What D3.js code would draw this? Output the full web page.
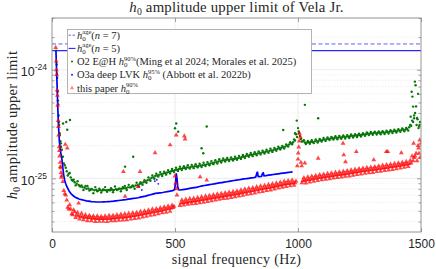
<!DOCTYPE html>
<html>
<head>
<meta charset="utf-8">
<script src="https://cdn.jsdelivr.net/npm/d3@7"></script>
<style>
body { margin: 0; background: #fff; }
svg text { fill: #262626; }
.serif { font-family: "Liberation Serif", "Times New Roman", serif; }
.sans { font-family: "Liberation Sans", Arial, sans-serif; }
</style>
</head>
<body>
<script>
// h0 values below are in units of 1e-26
const unit = 1e-26;

const xTicks = [0, 500, 1000, 1500];
const yTickExp = [-25, -24];
const yDomain = [3.2e-26, 3e-24];
const hAge = [173, 150]; // n = 7 (dashed), n = 5 (solid)

// O2 E@H (green dots)
const greenPts = [
  [17,150],[19,112],[20,92],[21,84],[23,63],[24,52],[25,48],[27,38],[28,33],[29,31],[31,26],[32,25],[34,22],[36,21],[37,19.5],
  [40,18.3],[48,13.7],[56,12.5],[64,10.6],[72,11.2],[80,9.7],[88,9.7],[96,8.6],[104,9.4],[112,8.5],[120,8.6],[128,7.8],[136,8.5],[144,8.5],[152,7.7],[160,7.98],[168,7.3],[176,8.3],[184,7.6],[192,8.0],[200,7.4],[208,7.9],[216,8.3],[224,7.5],[232,7.8],[240,8.1],[248,7.45],[256,8.4],[264,7.8],[272,8.0],[280,7.6],[288,8.3],[296,8.5],[304,7.8],[312,8.7],[320,8.25],[328,8.6],[336,8.0],[344,9.1],[352,8.4],[360,9.2],[368,8.7],[376,9.6],[384,9.1],[392,10.2],[400,9.5],[408,10.6],[416,9.9],[424,11.0],[432,10.4],[440,11.4],[448,10.5],[456,11.5],[464,10.8],[472,11.9],[480,11.1],[488,12.2],[496,11.4],[504,12.5],[512,11.7],[520,12.8],[528,11.9],[536,12.9],[544,12.2],[552,13.2],[560,12.3],[568,13.3],[576,12.4],[584,13.5],[592,12.6],[600,13.6],[608,12.7],[616,13.9],[624,13.0],[632,14.1],[640,13.2],[648,14.4],[656,13.5],[664,14.7],[672,13.7],[680,15.0],[688,14.0],[696,15.2],[704,14.3],[712,15.4],[720,14.4],[728,15.6],[736,14.6],[744,15.8],[752,14.8],[760,16.1],[768,15.1],[776,16.4],[784,15.4],[792,16.8],[800,15.8],[808,17.1],[816,16.0],[824,17.4],[832,16.3],[840,17.7],[848,16.6],[856,18.0],[864,16.9],[872,18.3],[880,17.2],[888,18.7],[896,17.5],[904,19.0],[912,17.9],[920,19.5],[928,18.4],[936,19.9],[944,18.8],[952,20.5],[960,19.6],[968,21.5],[976,20.6],[984,22.8],[992,25.5],[1000,29],[1008,24.5],[1016,21.8],[1024,22.4],[1032,20.7],[1040,22.1],[1048,20.8],[1056,22.4],[1064,21.1],[1072,22.8],[1080,21.4],[1088,23.1],[1096,21.8],[1104,23.5],[1112,22.1],[1120,23.8],[1128,22.5],[1136,24.1],[1144,22.8],[1152,24.4],[1160,22.9],[1168,24.6],[1176,23.1],[1184,24.8],[1192,23.3],[1200,25.0],[1208,23.5],[1216,25.3],[1224,23.8],[1232,25.5],[1240,24.0],[1248,25.8],[1256,24.3],[1264,26.1],[1272,24.6],[1280,26.4],[1288,25.0],[1296,26.7],[1304,25.2],[1312,26.9],[1320,25.3],[1328,27.0],[1336,25.5],[1344,27.2],[1352,25.6],[1360,27.4],[1368,25.9],[1376,27.7],[1384,26.1],[1392,28.0],[1400,26.4],[1408,28.4],[1416,26.8],[1424,28.8],[1432,27.1],[1440,29.1],[1448,27.5],[1456,31],[1464,34],[1472,38],[1480,46],[1488,60],[1496,33],
  // outliers
  [45,32],[58,33],[62,28],[73,34.5],[297,12.8],[330,15.8],[500,28.9],[505,32],[513,26.9],[608,18.9],[615,17.0],[629,30],[940,27.9],[988,26],[995,34],[1003,27],[1028,47.5],[1082,35.7],[1458,37],[1462,62.8],[1465,56.6],[1468,45.8],[1472,35.7],[1475,77.7],[1478,72],[1482,31],[1486,35],[1490,29],[1494,31]
];
// the middle of the green band, between the rows above
const greenFill = [
  [44,15.8],[52,13.2],[60,11.6],[68,11.0],[76,10.2],[84,9.5],[92,9.2],[100,8.9],[108,8.7],[116,8.4],[124,8.3],[132,8.2],[140,8.0],[148,8.05],[156,7.85],[164,7.9],[172,7.75],[180,7.85],[188,7.7],[196,7.8],[204,7.7],[212,7.8],[220,7.75],[228,7.8],[236,7.75],[244,7.85],[252,7.8],[260,7.95],[268,7.9],[276,8.0],[284,8.0],[292,8.1],[300,8.1],[308,8.25],[316,8.25],[324,8.4],[332,8.4],[340,8.6],[348,8.65],[356,8.85],[364,8.95],[372,9.2],[380,9.3],[388,9.6],[396,9.75],[404,10.05],[412,10.2],[420,10.5],[428,10.6],[436,10.8],[444,10.9],[452,11.05],[460,11.15],[468,11.3],[476,11.45],[484,11.6],[492,11.75],[500,11.9],[508,12.0],[516,12.2],[524,12.25],[532,12.4],[540,12.45],[548,12.6],[556,12.6],[564,12.75],[572,12.8],[580,12.9],[588,12.9],[596,13.0],[604,13.1],[612,13.2],[620,13.3],[628,13.45],[636,13.55],[644,13.7],[652,13.8],[660,14.0],[668,14.1],[676,14.3],[684,14.4],[692,14.6],[700,14.7],[708,14.8],[716,14.85],[724,14.95],[732,15.0],[740,15.1],[748,15.2],[756,15.35],[764,15.5],[772,15.7],[780,15.85],[788,16.05],[796,16.2],[804,16.4],[812,16.5],[820,16.7],[828,16.8],[836,16.95],[844,17.1],[852,17.25],[860,17.4],[868,17.55],[876,17.7],[884,17.9],[892,18.05],[900,18.2],[908,18.45],[916,18.65],[924,18.9],[932,19.1],[940,19.3],[948,19.6],[956,20.0],[964,20.5],[972,21.0],[980,21.5],[988,22.3],[996,24],[1004,26],[1012,23],[1020,22.0],[1028,21.4],[1036,21.3],[1044,21.5],[1052,21.6],[1060,21.6],[1068,21.9],[1076,22.0],[1084,22.2],[1092,22.4],[1100,22.6],[1108,22.7],[1116,22.9],[1124,23.1],[1132,23.3],[1140,23.4],[1148,23.5],[1156,23.6],[1164,23.8],[1172,23.8],[1180,24.0],[1188,24.1],[1196,24.2],[1204,24.3],[1212,24.4],[1220,24.6],[1228,24.6],[1236,24.8],[1244,24.9],[1252,25.1],[1260,25.2],[1268,25.4],[1276,25.5],[1284,25.7],[1292,25.8],[1300,26.0],[1308,26.1],[1316,26.2],[1324,26.2],[1332,26.3],[1340,26.4],[1348,26.4],[1356,26.5],[1364,26.7],[1372,26.8],[1380,27.0],[1388,27.1],[1396,27.2],[1404,27.4],[1412,27.6],[1420,27.8],[1428,28.0],[1436,28.1],[1444,28.3],[1452,29.5],[1460,30.5],[1468,33],[1476,40],[1484,36],[1492,30]
];

// O3a deep LVK (blue, dense enough to read as a line)
const bluePts = [
  [16,150],[18,110],[20,80],[22,58],[24,42],[26,32],[28,26],[30,22],[33,19],[36,17],[40,15.2],[44,12.5],[48,10.6],[52,9.5],[56,8.9],
  [60,8.4],[70,7.6],[80,7.1],[90,6.8],[100,6.6],[110,6.45],[120,6.35],[130,6.28],[140,6.2],[150,6.15],[160,6.1],[170,6.08],[180,6.05],[190,6.05],[200,6.05],[210,6.07],[220,6.08],[230,6.1],[240,6.12],[250,6.15],[260,6.2],[270,6.24],[280,6.28],[290,6.32],[300,6.36],[310,6.42],[320,6.47],[330,6.52],[340,6.56],[350,6.62],[360,6.7],[370,6.78],[380,6.86],[390,6.95],[400,7.05],[410,7.15],[420,7.25],[430,7.3],[440,7.35],[450,7.4],[460,7.48],[470,7.55],[480,7.62],[490,7.7],[498,7.85],[502,9.0],[505,11.1],[508,10.0],[511,8.4],[515,7.85],[520,7.8],[530,7.85],[540,7.92],[550,8.0],[560,8.08],[570,8.15],[580,8.22],[590,8.3],[600,8.4],[610,8.5],[620,8.58],[630,8.66],[640,8.74],[650,8.82],[660,8.9],[670,8.98],[680,9.06],[690,9.14],[700,9.22],[710,9.3],[720,9.38],[730,9.46],[740,9.54],[750,9.62],[760,9.7],[770,9.78],[780,9.86],[790,9.92],[800,10.0],[810,10.08],[820,10.15],[828,10.25],[832,11.0],[835,11.5],[838,10.4],[845,10.35],[852,10.45],[856,11.1],[859,11.2],[862,10.55],[870,10.6],[880,10.68],[890,10.76],[900,10.84],[910,10.92],[920,11.0],[930,11.08],[940,11.16],[950,11.24],[960,11.32],[970,11.4],[978,11.48]
];
const blueExtra = [[355,8.4],[365,7.8],[418,9.4],[426,9.7],[432,8.9]];

// this paper (red triangles)
const redPts = [
  [15,160],[17,120],[18,100],[19,90],[21,65],[22,58],[23,47],[25,34],[26,30],[27,25],[29,19.5],[30,18],[31,16],[33,14],[34,12.8],[35,12.5],[37,11.3],[38,10.2],[44,9.3],[52,7.2],[60,6.3],[68,5.2],[76,5.2],[84,4.6],[92,4.9],
  [40,10.6],[48,7.7],[56,7.0],[64,5.4],[72,5.7],[80,4.7],[88,5.1],[96,4.35],[104,4.85],[112,4.2],[120,4.75],[128,4.15],[136,4.6],[144,4.05],[152,4.55],[160,4.05],[168,4.5],[176,3.98],[184,4.5],[192,4.0],[200,4.45],[208,4.0],[216,4.5],[224,3.98],[232,4.55],[240,4.05],[248,4.55],[256,4.05],[264,4.6],[272,4.1],[280,4.65],[288,4.12],[296,4.7],[304,4.15],[312,4.75],[320,4.2],[328,4.8],[336,4.25],[344,4.85],[352,4.3],[360,4.95],[368,4.4],[376,5.0],[384,4.45],[392,5.1],[400,4.55],[408,5.2],[416,4.6],[424,5.25],[432,4.7],[440,5.35],[448,4.8],[456,5.45],[464,4.85],[472,5.55],[480,4.95],[488,5.65],[496,5.5],[520,5.6],[528,6.3],[536,5.65],[544,6.4],[552,5.75],[560,6.5],[568,5.8],[576,6.55],[584,5.85],[592,6.65],[600,5.95],[608,6.75],[616,6.0],[624,6.85],[632,6.1],[640,6.95],[648,6.2],[656,7.05],[664,6.3],[672,7.15],[680,6.4],[688,7.25],[696,6.5],[704,7.35],[712,6.55],[720,7.45],[728,6.65],[736,7.55],[744,6.75],[752,7.65],[760,6.85],[768,7.8],[776,6.95],[784,7.95],[792,7.1],[800,8.1],[808,7.2],[816,8.2],[824,7.3],[832,8.35],[840,7.45],[848,8.5],[856,7.55],[864,8.6],[872,7.7],[880,8.75],[888,7.8],[896,8.9],[904,7.95],[912,9.05],[920,8.1],[928,9.2],[936,8.25],[944,9.4],[952,8.4],[960,9.5],[968,8.5],[976,9.6],[984,8.6],[992,9.4],[1016,9.1],[1024,10.1],[1032,9.05],[1040,10.3],[1048,9.2],[1056,10.45],[1064,9.35],[1072,10.6],[1080,9.5],[1088,10.8],[1096,9.65],[1104,10.9],[1112,9.8],[1120,11.05],[1128,9.9],[1136,11.2],[1144,10.05],[1152,11.35],[1160,10.15],[1168,11.45],[1176,10.25],[1184,11.6],[1192,10.4],[1200,11.75],[1208,10.5],[1216,11.9],[1224,10.65],[1232,12.1],[1240,10.8],[1248,12.25],[1256,10.95],[1264,12.4],[1272,11.1],[1280,12.55],[1288,11.2],[1296,12.65],[1304,11.3],[1312,12.8],[1320,11.5],[1328,13.0],[1336,11.6],[1344,13.2],[1352,11.8],[1360,13.35],[1368,11.9],[1376,13.5],[1384,12.05],[1392,13.7],[1400,12.2],[1408,13.85],[1416,12.4],[1424,14.05],[1432,12.6],[1440,14.25],[1448,12.8],[1456,14.6],[1464,16],[1472,15.5],[1480,17],[1488,20],[1496,15.5],
  // outliers
  [54,20.5],[62,19],[108,5.9],[290,11.5],[297,6.8],[350,8.4],[358,11.5],[419,17.2],[480,20.3],[500,10.5],[503,9],[506,8],[508,7],[505,25],[538,24.5],[541,23],[602,10.3],[629,9.6],[997,13],[1000,15],[1001,17.1],[1003,19.4],[1005,22],[1006,26],[1010,24],[1012,14],[1015,13],[1028,13.8],[1082,15.3],[1183,21],[1186,16.4],[1193,14.2],[1237,17.6],[1308,14.8],[1359,17.6],[1365,17.6],[1420,17.2],[1470,21],[1490,19],[1495,22.5],[1500,21]
];
// the middle of the red band
const redFill = [
  [100,4.6],[108,4.5],[116,4.45],[124,4.42],[132,4.38],[140,4.36],[148,4.35],[156,4.32],[164,4.3],[172,4.27],[180,4.25],[188,4.25],[196,4.25],[204,4.26],[212,4.25],[220,4.27],[228,4.28],[236,4.28],[244,4.3],[252,4.31],[260,4.33],[268,4.36],[276,4.38],[284,4.4],[292,4.4],[300,4.42],[308,4.44],[316,4.47],[324,4.5],[332,4.53],[340,4.56],[348,4.6],[356,4.63],[364,4.67],[372,4.71],[380,4.75],[388,4.79],[396,4.83],[404,4.87],[412,4.91],[420,4.95],[428,4.99],[436,5.03],[444,5.07],[452,5.12],[460,5.17],[468,5.22],[476,5.27],[484,5.32],[492,5.37],[524,5.92],[532,5.96],[540,6.0],[548,6.04],[556,6.08],[564,6.12],[572,6.16],[580,6.2],[588,6.24],[596,6.28],[604,6.33],[612,6.37],[620,6.42],[628,6.47],[636,6.52],[644,6.57],[652,6.62],[660,6.66],[668,6.71],[676,6.76],[684,6.81],[692,6.86],[700,6.9],[708,6.95],[716,7.0],[724,7.05],[732,7.1],[740,7.14],[748,7.19],[756,7.25],[764,7.31],[772,7.38],[780,7.44],[788,7.5],[796,7.57],[804,7.63],[812,7.7],[820,7.76],[828,7.83],[836,7.89],[844,7.95],[852,8.02],[860,8.08],[868,8.15],[876,8.21],[884,8.27],[892,8.34],[900,8.4],[908,8.48],[916,8.56],[924,8.64],[932,8.72],[940,8.8],[948,8.88],[956,8.94],[964,8.98],[972,9.02],[980,9.06],[988,9.09],[1020,9.52],[1028,9.58],[1036,9.66],[1044,9.74],[1052,9.82],[1060,9.9],[1068,9.98],[1076,10.06],[1084,10.13],[1092,10.2],[1100,10.27],[1108,10.34],[1116,10.4],[1124,10.47],[1132,10.54],[1140,10.61],[1148,10.68],[1156,10.75],[1164,10.81],[1172,10.88],[1180,10.94],[1188,11.0],[1196,11.07],[1204,11.14],[1212,11.22],[1220,11.3],[1228,11.38],[1236,11.46],[1244,11.54],[1252,11.62],[1260,11.7],[1268,11.76],[1276,11.82],[1284,11.89],[1292,11.95],[1300,12.0],[1308,12.08],[1316,12.16],[1324,12.24],[1332,12.32],[1340,12.4],[1348,12.48],[1356,12.56],[1364,12.64],[1372,12.72],[1380,12.8],[1388,12.88],[1396,12.96],[1404,13.05],[1412,13.15],[1420,13.25],[1428,13.34],[1436,13.43],[1444,13.53],[1452,13.64],[1460,13.8],[1468,14.5],[1476,16],[1484,14.5],[1492,17]
];

const W = 436, H = 269;
const m = {left: 52, right: 421, top: 18, bottom: 232};

const x = d3.scaleLinear().domain([0, 1500]).range([m.left, m.right]);
const y = d3.scaleLog().domain(yDomain).range([m.bottom, m.top]);

const minorVals = [];
[-26, -25, -24].forEach(k => {
  for (let i = 2; i <= 9; i++) {
    const v = i * Math.pow(10, k);
    if (v >= yDomain[0] && v <= yDomain[1]) minorVals.push(v);
  }
});
const majorVals = yTickExp.map(e => Math.pow(10, e));

const svg = d3.select('body').append('svg')
  .attr('width', W).attr('height', H);

svg.append('rect').attr('width', W).attr('height', H).attr('fill', '#fff');

// grid
const grid = svg.append('g');
grid.selectAll('.ymin').data(minorVals).enter().append('line')
  .attr('x1', m.left).attr('x2', m.right)
  .attr('y1', d => y(d)).attr('y2', d => y(d))
  .attr('stroke', '#e4e4e4').attr('stroke-width', 0.6).attr('stroke-dasharray', '1.5,1.5');
grid.selectAll('.ymaj').data(majorVals).enter().append('line')
  .attr('x1', m.left).attr('x2', m.right)
  .attr('y1', d => y(d)).attr('y2', d => y(d))
  .attr('stroke', '#e6e6e6').attr('stroke-width', 0.8);
grid.selectAll('.xmaj').data(xTicks.slice(1, -1)).enter().append('line')
  .attr('x1', d => x(d)).attr('x2', d => x(d))
  .attr('y1', m.top).attr('y2', m.bottom)
  .attr('stroke', '#e6e6e6').attr('stroke-width', 0.8);

// clip for data
svg.append('clipPath').attr('id', 'plotClip')
  .append('rect').attr('x', m.left).attr('y', m.top)
  .attr('width', m.right - m.left).attr('height', m.bottom - m.top);

const data = svg.append('g').attr('clip-path', 'url(#plotClip)');

// h0 age lines
data.append('line')
  .attr('x1', m.left).attr('x2', m.right)
  .attr('y1', y(hAge[0] * unit)).attr('y2', y(hAge[0] * unit))
  .attr('stroke', '#6060ff').attr('stroke-width', 1).attr('stroke-dasharray', '4,2.5');
data.append('line')
  .attr('x1', m.left).attr('x2', m.right)
  .attr('y1', y(hAge[1] * unit)).attr('y2', y(hAge[1] * unit))
  .attr('stroke', '#2626ff').attr('stroke-width', 1.1);

// green
data.append('g').selectAll('circle').data(greenPts.concat(greenFill)).enter().append('circle')
  .attr('cx', d => x(d[0])).attr('cy', d => y(d[1] * unit))
  .attr('r', 1.2).attr('fill', '#087508');

// blue
const line = d3.line().x(d => x(d[0])).y(d => y(d[1] * unit));
data.append('path').datum(bluePts)
  .attr('d', line).attr('fill', 'none')
  .attr('stroke', '#0000ff').attr('stroke-width', 1.7);
data.append('g').selectAll('circle').data(blueExtra).enter().append('circle')
  .attr('cx', d => x(d[0])).attr('cy', d => y(d[1] * unit))
  .attr('r', 0.9).attr('fill', '#2020ff');

// red
const tri = d3.symbol().type(d3.symbolTriangle).size(10);
data.append('g').selectAll('path').data(redPts.concat(redFill)).enter().append('path')
  .attr('d', tri)
  .attr('transform', d => 'translate(' + x(d[0]) + ',' + y(d[1] * unit) + ')')
  .attr('fill', '#ff0000').attr('fill-opacity', 0.72);

// axes: ticks inside on all four sides
const axisColor = '#8a8a8a';
const gx = svg.append('g').attr('transform', 'translate(0,' + m.bottom + ')')
  .call(d3.axisBottom(x).tickValues(xTicks).tickFormat(d3.format('d'))
    .tickSizeInner(-4).tickSizeOuter(0).tickPadding(7.5));
gx.selectAll('text').attr('class', 'sans').attr('font-size', 12).attr('fill', '#262626');

svg.append('g').attr('transform', 'translate(0,' + m.top + ')')
  .call(d3.axisTop(x).tickValues(xTicks).tickSizeInner(-4).tickSizeOuter(0).tickFormat(''));

const gy = svg.append('g').attr('transform', 'translate(' + m.left + ',0)')
  .call(d3.axisLeft(y).tickValues(majorVals).tickSizeInner(-4).tickSizeOuter(0).tickFormat(''));
svg.append('g').attr('transform', 'translate(' + m.left + ',0)')
  .call(d3.axisLeft(y).tickValues(minorVals).tickSizeInner(-2.5).tickSizeOuter(0).tickFormat(''));
svg.append('g').attr('transform', 'translate(' + m.right + ',0)')
  .call(d3.axisRight(y).tickValues(majorVals).tickSizeInner(-4).tickSizeOuter(0).tickFormat(''));
svg.append('g').attr('transform', 'translate(' + m.right + ',0)')
  .call(d3.axisRight(y).tickValues(minorVals).tickSizeInner(-2.5).tickSizeOuter(0).tickFormat(''));

svg.selectAll('.domain').remove();
svg.selectAll('.tick line').attr('stroke', axisColor).attr('stroke-width', 0.8);
svg.selectAll('.tick text').filter(function() { return !this.textContent; }).remove();

// y tick labels 10^k
gy.selectAll('.tick').each(function(d, i) {
  const t = d3.select(this).append('text')
    .attr('class', 'sans').attr('text-anchor', 'end')
    .attr('x', -5).attr('y', 6).attr('font-size', 12.5).attr('fill', '#262626');
  t.append('tspan').text('10');
  t.append('tspan').attr('font-size', 8.5).attr('dy', -6).text(String(yTickExp[i]));
});

// box
svg.append('rect')
  .attr('x', m.left).attr('y', m.top)
  .attr('width', m.right - m.left).attr('height', m.bottom - m.top)
  .attr('fill', 'none').attr('stroke', axisColor).attr('stroke-width', 0.9);

// h0 with stacked sub/superscripts
function h0(sel, fs, sup) {
  sel.append('tspan').attr('font-style', 'italic').text('h');
  sel.append('tspan').attr('font-size', fs * 0.66).attr('dy', fs * 0.2).text('0');
  if (sup) {
    sel.append('tspan').attr('font-size', fs * 0.62).attr('dx', -fs * 0.33).attr('dy', -fs * 0.62).text(sup);
    return fs * 0.42;
  }
  return -fs * 0.2;
}

// title
const title = svg.append('text').attr('class', 'serif')
  .attr('x', (m.left + m.right) / 2).attr('y', 12).attr('text-anchor', 'middle')
  .attr('font-size', 14.8).attr('letter-spacing', 0.2);
h0(title, 14.8);
title.append('tspan').attr('dy', -14.8 * 0.2).text(' amplitude upper limit of Vela Jr.');

// axis labels
svg.append('text').attr('class', 'serif')
  .attr('x', (m.left + m.right) / 2).attr('y', 263.5).attr('text-anchor', 'middle')
  .attr('font-size', 14).attr('letter-spacing', 0.35).text('signal frequency (Hz)');

const yl = svg.append('text').attr('class', 'serif')
  .attr('transform', 'translate(17,' + ((m.top + m.bottom) / 2) + ') rotate(-90)')
  .attr('text-anchor', 'middle').attr('font-size', 14.5).attr('letter-spacing', 0.3);
h0(yl, 14.5);
yl.append('tspan').attr('dy', -14.5 * 0.2).text(' amplitude upper limit');

// legend
const lg = svg.append('g');
lg.append('rect').attr('x', 67.5).attr('y', 29.5).attr('width', 244).attr('height', 64)
  .attr('fill', '#fff').attr('stroke', '#a0a0a0').attr('stroke-width', 0.8);

const rows = [35.2, 48.4, 61.6, 74.8, 88.0];
const lfs = 10.5;
const mx = 72;

lg.append('line').attr('x1', 68.5).attr('x2', 75.5).attr('y1', rows[0]).attr('y2', rows[0])
  .attr('stroke', '#6060ff').attr('stroke-dasharray', '2.5,1.5');
lg.append('line').attr('x1', 68.5).attr('x2', 75.5).attr('y1', rows[1]).attr('y2', rows[1])
  .attr('stroke', '#2626ff').attr('stroke-width', 1.1);
lg.append('circle').attr('cx', mx).attr('cy', rows[2]).attr('r', 1.0).attr('fill', '#087508');
lg.append('circle').attr('cx', mx).attr('cy', rows[3]).attr('r', 1.0).attr('fill', '#2020ff');
lg.append('path').attr('d', d3.symbol().type(d3.symbolTriangle).size(8))
  .attr('transform', 'translate(' + mx + ',' + rows[4] + ')')
  .attr('fill', '#ff0000').attr('fill-opacity', 0.45);

const entries = [
  {pre: '', sup: 'age', post: '(', italic: 'n', tail: ' = 7)'},
  {pre: '', sup: 'age', post: '(', italic: 'n', tail: ' = 5)'},
  {pre: 'O2 E@H ', sup: '90%', post: '(Ming et al 2024; Morales et al. 2025)'},
  {pre: 'O3a deep LVK ', sup: '95%', post: ' (Abbott et al. 2022b)'},
  {pre: 'this paper ', sup: '90%', post: ''}
];
entries.forEach((e, i) => {
  const t = lg.append('text').attr('class', 'serif')
    .attr('x', 77).attr('y', rows[i] + 3.5).attr('font-size', lfs);
  if (e.pre) t.append('tspan').text(e.pre);
  const back = h0(t, lfs, e.sup);
  if (e.post) t.append('tspan').attr('dy', back).text(e.post);
  if (e.italic) {
    t.append('tspan').attr('font-style', 'italic').text(e.italic);
    t.append('tspan').text(e.tail);
  }
});
</script>
</body>
</html>
